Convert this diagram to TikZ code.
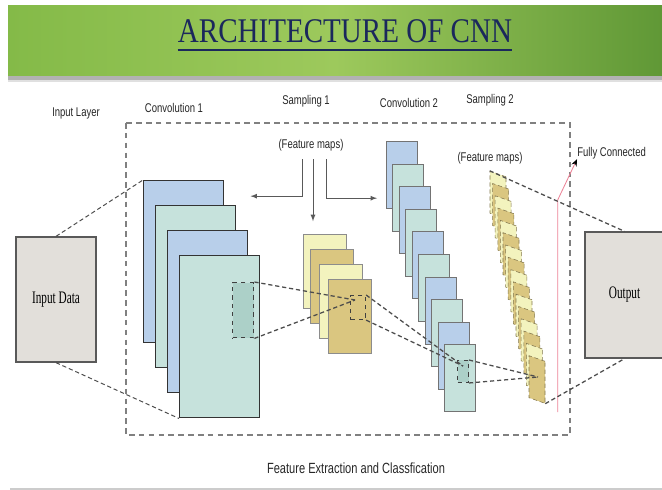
\documentclass[tikz,border=0pt]{standalone}
\usepackage{fontspec}
\setmainfont{Liberation Serif}
\newfontfamily\lblfont[FakeStretch=0.75]{Liberation Sans}
\newfontfamily\boxfont[FakeStretch=0.64]{Liberation Serif}
\newfontfamily\titlefont[FakeStretch=0.84]{Liberation Serif}
\usepackage{tikz}
\usetikzlibrary{shapes,arrows,arrows.meta,positioning,calc}
\definecolor{navyblue}{RGB}{27,40,92}
\definecolor{bandmid}{RGB}{157,201,92}
\definecolor{bandleft}{RGB}{132,186,72}
\definecolor{bandright}{RGB}{96,152,54}
\definecolor{mapblue}{RGB}{184,207,234}
\definecolor{mapteal}{RGB}{198,226,220}
\definecolor{patchteal}{RGB}{172,208,200}
\definecolor{mapyellow}{RGB}{243,243,190}
\definecolor{maptan}{RGB}{218,198,128}
\definecolor{boxgray}{RGB}{226,223,218}
\definecolor{fcpink}{RGB}{236,130,150}

\begin{document}
\begin{tikzpicture}[x=0.025cm, y=-0.025cm,
        lbl/.style={font=\lblfont\fontsize{9}{10}\selectfont, text=black!85, inner sep=0},
        title/.style={font=\titlefont\fontsize{24.6}{26}\selectfont, text=navyblue, inner sep=0, anchor=base},
        iobox/.style={rectangle, draw=black!65, line width=0.9pt, fill=boxgray, inner sep=0, minimum width=2cm, font=\boxfont\fontsize{12.5}{13}\selectfont},
        cbox/.style={rectangle, draw=black!80, line width=1pt, anchor=north west, minimum width=2cm, minimum height=4.05cm, inner sep=0},
        c2box/.style={rectangle, draw=black!55, line width=0.6pt, anchor=north west, minimum width=0.775cm, minimum height=1.675cm, inner sep=0},
        s1box/.style={rectangle, draw=black!45, line width=0.5pt, anchor=north west, minimum width=1.075cm, minimum height=1.85cm, inner sep=0},
        s2box/.style={rectangle, draw=black!40!maptan, densely dashed, line width=0.4pt, minimum width=0.4cm, minimum height=1.05cm, inner sep=0, yslant=-0.35, transform shape},
        patch/.style={rectangle, draw=black!75, dashed, line width=1pt, anchor=north west, inner sep=0},
        link/.style={densely dashed, line width=0.9pt, black!70},
        fmline/.style={->, >=latex, line width=0.6pt, black!65},
        frame/.style={dash pattern=on 4pt off 3pt, line width=0.8pt, black!50}]

        \useasboundingbox (0,0) rectangle (662,490);

        % Header
        \shade[left color=bandleft, right color=bandright, middle color=bandmid] (8,6) rectangle (662,76);
        \fill[black!30] (8,76) rectangle (662,80);
        \fill[black!12] (8,80) rectangle (662,82);
        \node[title] (ttl) at (345,43) {ARCHITECTURE OF CNN};
        \draw[navyblue, line width=1.6pt] ([yshift=-5pt]ttl.base west) -- ([yshift=-5pt]ttl.base east);

        % Layer names
        \node[lbl] (lin) at (76,113) {Input Layer};
        \node[lbl] (lc1) at (174,108) {Convolution 1};
        \node[lbl] (ls1) at (306,101) {Sampling 1};
        \node[lbl] (lc2) at (409,103) {Convolution 2};
        \node[lbl] (ls2) at (490,100) {Sampling 2};

        % Feature extraction frame
        \draw[frame] (126,123) rectangle (570,435);

        % Input and output
        \node[iobox, minimum height=3.125cm] (in) at (56,299.5) {Input Data};
        \node[iobox, minimum width=1.975cm, minimum height=3.15cm] (out) at (624.5,295) {Output};

        % Convolution 1
        \foreach \i/\c in {0/mapblue,1/mapteal,2/mapblue,3/mapteal}
            \node[cbox, fill=\c] (c1-\i) at (143+12*\i,180+25*\i) {};
        \node[patch, fill=patchteal, minimum width=0.525cm, minimum height=1.375cm] (cf1) at (232,282) {};

        % Sampling 1
        \foreach \i/\c/\x/\y in {0/mapyellow/303/234,1/maptan/310/249,2/mapyellow/319/264,3/maptan/328/279}
            \node[s1box, fill=\c] (s1-\i) at (\x,\y) {};
        \node[patch, line width=0.8pt, minimum width=0.375cm, minimum height=0.6cm] (sf1) at (350,295) {};

        % Convolution 2
        \foreach \i/\c in {0/mapblue,1/mapteal,2/mapblue,3/mapteal,4/mapblue,5/mapteal,6/mapblue,7/mapteal,8/mapblue,9/mapteal}
            \node[c2box, fill=\c] (c2-\i) at (386+6.44*\i,141+22.6*\i) {};
        \node[patch, line width=0.7pt, fill=patchteal, minimum width=0.275cm, minimum height=0.55cm] (cf2) at (457,360) {};

        % Sampling 2
        \foreach \i in {0,...,15} {
            \ifodd\i \def\c{maptan}\else\def\c{mapyellow}\fi
            \begin{scope}[shift={(498+2.6*\i,195+12.3*\i)}]
                \node[s2box, fill=\c] (s2-\i) at (0,0) {};
            \end{scope}
        }

        % Feature map labels
        \node[lbl] (fm1) at (311,145) {(Feature maps)};
        \node[lbl] (fm2) at (490,158) {(Feature maps)};
        \draw[fmline] (fm1.south) ++(-8.5,8) -- ++(0,37) -- ++(-52,0);
        \draw[fmline] (fm1.south) ++(2,8) -- ++(0,62);
        \draw[fmline] (fm1.south) ++(15,8) -- ++(0,39) -- ++(51,0);

        % Fully connected
        \node[lbl, anchor=west] (fc) at (577,153) {Fully Connected};
        \coordinate (fcb) at (557.7,412);
        \coordinate (fcm) at (557.7,200);
        \draw[fcpink, line width=0.6pt, -{Stealth[black, length=5pt, width=4pt]}] (fcb) -- (fcm) -- (fc.south west);

        % Paths
        \coordinate (p1) at (355,300);
        \coordinate (p2) at (463,366);
        \coordinate (p3) at (538,377);
        \draw[link, line width=0.7pt] (in.north) -- (c1-0.north west);
        \draw[link, line width=0.7pt] (in.south) -- (c1-3.south west);
        \draw[link] (cf1.north east) -- (p1);
        \draw[link] (cf1.south east) -- (p1);
        \draw[link] (sf1.north east) -- (p2);
        \draw[link] (sf1.south east) -- (p2);
        \draw[link] (cf2.north east) -- (p3);
        \draw[link] (cf2.south east) -- (p3);
        \draw[link] (s2-0.north west) -- (out.north);
        \draw[link] (s2-15.south east) -- (out.south);

        % Bottom caption
        \node[lbl, font=\lblfont\fontsize{10.5}{12}\selectfont] (cap) at (356,468) {Feature Extraction and Classfication};
        \draw[black!20, line width=1.2pt] (10,489) -- (662,489);

    \end{tikzpicture}
\end{document}
